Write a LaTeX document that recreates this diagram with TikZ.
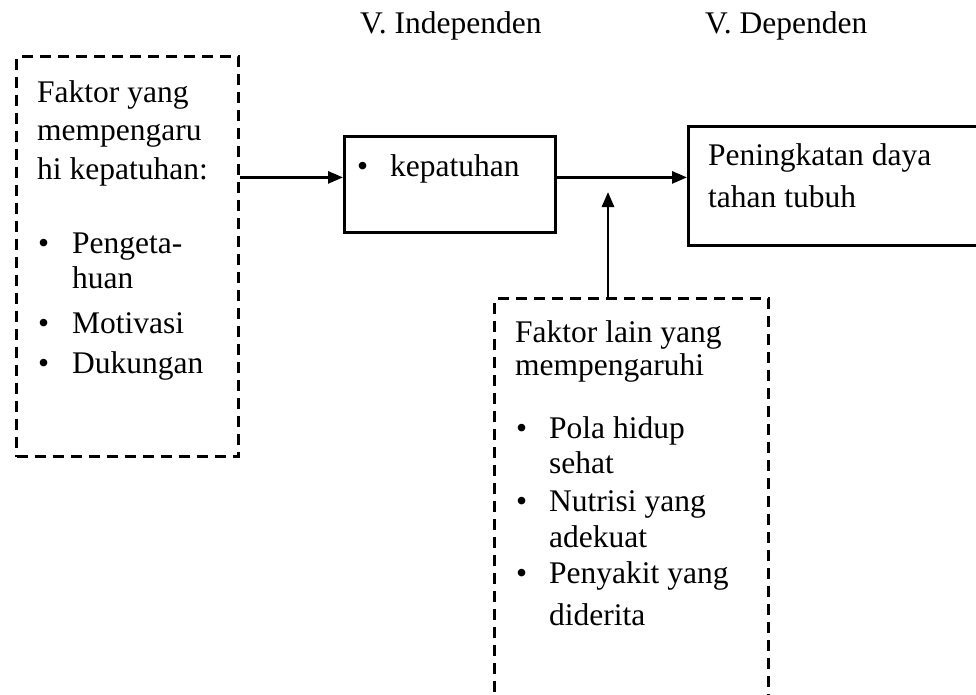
\documentclass[tikz,border=0pt]{standalone}
\usepackage{fontspec}
\setmainfont{Liberation Serif}
\usetikzlibrary{arrows.meta}
\tikzset{
  txt/.style={anchor=base west, inner sep=0pt, font=\fontsize{31.5}{38}\selectfont},
  dashbox/.style={draw, line width=3pt, dash pattern=on 11pt off 7pt, anchor=north west, inner sep=0pt},
  solidbox/.style={draw, line width=2.8pt, anchor=north west, inner sep=0pt},
  arr/.style={line width=2.8pt, -{Triangle[length=15pt,width=12pt]}}
}
\begin{document}
\begin{tikzpicture}[x=1pt,y=-1pt]
\useasboundingbox (0,0) rectangle (976,694);
% boxes
\node[dashbox, minimum width=222pt, minimum height=400pt] (fac) at (15,55) {};
\node[solidbox, minimum width=211pt, minimum height=96pt] (kep) at (343,135) {};
\node[solidbox, minimum width=310pt, minimum height=119pt] (pen) at (687,125) {};
\node[dashbox, minimum width=274pt, minimum height=420pt] (low) at (493,297) {};
% headers
\node[txt] (hind) at (360,33) {V. Independen};
\node[txt] (hdep) at (705,33) {V. Dependen};
% left box text
\node[txt] (f1) at (37,102) {Faktor yang};
\node[txt] (f2) at (37,140) {mempengaru};
\node[txt] (f3) at (37,179) {hi kepatuhan:};
\node[txt] (fb1) at (38,253) {•};
\node[txt] (f4) at (72,253) {Pengeta-};
\node[txt] (f5) at (72,288) {huan};
\node[txt] (fb2) at (38,333) {•};
\node[txt] (f6) at (72,333) {Motivasi};
\node[txt] (fb3) at (38,373) {•};
\node[txt] (f7) at (72,373) {Dukungan};
% kepatuhan
\node[txt] (kb) at (357,176) {•};
\node[txt] (kt) at (390,176) {kepatuhan};
% peningkatan
\node[txt] (p1) at (708,165) {Peningkatan daya};
\node[txt] (p2) at (708,207) {tahan tubuh};
% lower box text
\node[txt] (l1) at (515,342) {Faktor lain yang};
\node[txt] (l2) at (515,375) {mempengaruhi};
\node[txt] (lb1) at (516,438) {•};
\node[txt] (l3) at (549,438) {Pola hidup};
\node[txt] (l4) at (549,473) {sehat};
\node[txt] (lb2) at (516,511) {•};
\node[txt] (l5) at (549,511) {Nutrisi yang};
\node[txt] (l6) at (549,547) {adekuat};
\node[txt] (lb3) at (516,583) {•};
\node[txt] (l7) at (549,583) {Penyakit yang};
\node[txt] (l8) at (549,625) {diderita};
% connectors
\coordinate (kin) at ([yshift=7pt]kep.west);
\coordinate (kout) at ([yshift=7pt]kep.east);
\draw[arr] (fac.east |- kin) -- (kin);
\draw[arr] (kout) -- (kout -| pen.west);
\coordinate (up) at (608,192);
\draw[arr] (up |- low.north) -- (up);
\end{tikzpicture}
\end{document}
